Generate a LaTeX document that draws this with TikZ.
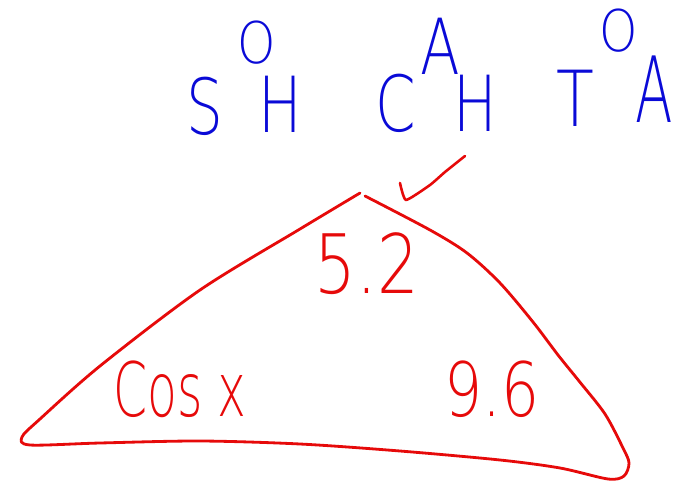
\documentclass[tikz,border=0pt]{standalone}
\usepackage{fontspec}
\usepackage{graphicx}
\newfontfamily\hand{DejaVu Sans ExtraLight}
\definecolor{inkblue}{RGB}{10,10,215}
\definecolor{inkred}{RGB}{230,10,10}
\tikzset{
  bigletter/.style={anchor=base, inner sep=0pt, text=inkblue, font=\hand\fontsize{66}{66}\selectfont},
  supletter/.style={anchor=base, inner sep=0pt, text=inkblue, font=\hand\fontsize{49}{49}\selectfont},
  redlabel/.style={anchor=base, inner sep=0pt, text=inkred, font=\hand\fontsize{64}{64}\selectfont},
  redink/.style={draw=inkred, line width=2.4pt, line cap=round, line join=round},
}
\begin{document}
\begin{tikzpicture}[x=0.03cm, y=-0.03cm]
\useasboundingbox (0,0) rectangle (675,483);
% SOH CAH TOA
\node[bigletter] (s1) at (205,135) {\scalebox{0.75}[1]{S}};
\node[supletter] (o1) at (257,64) {\scalebox{0.85}[1]{O}};
\node[bigletter] (h1) at (280,133) {\scalebox{0.75}[1]{H}};
\node[bigletter] (c1) at (396,132) {\scalebox{0.75}[1]{C}};
\node[bigletter] (a1) at (440,75) {\scalebox{0.75}[1]{A}};
\node[bigletter] (h2) at (475,132) {\scalebox{0.75}[1]{H}};
\node[bigletter] (t1) at (575,127) {\scalebox{0.8}[1]{T}};
\node[supletter] (o2) at (619,52) {\scalebox{0.85}[1]{O}};
\node[bigletter, font=\hand\fontsize{78}{78}\selectfont] (a2) at (654,123) {\scalebox{0.6}[1]{A}};
% triangle
\draw[redink] plot[smooth, tension=0.5] coordinates {
 (360,193) (300,229) (200,290) (100,366) (40,419) (22,437)
 (30,445) (100,443) (200,441) (300,444) (400,451) (500,460) (560,468) (608,479)
 (624,476) (629,463) (623,448) (605,414) (579,381) (558,355) (533,322)
 (500,283) (467,253) (430,230) (365,196)};
% tick
\draw[redink, line width=2.2pt] plot[smooth, tension=0.3] coordinates {
 (400,183) (406,200) (430,185) (445,172) (465,156)};
% labels
\node[redlabel, font=\hand\fontsize{70}{70}\selectfont] (l52) at (367,293) {\scalebox{0.8}[1]{5.2}};
\node[redlabel] (lcos) at (180,416) {\scalebox{0.65}[1]{Cos x}};
\node[redlabel] (l96) at (492,416) {\scalebox{0.8}[1]{9.6}};
\end{tikzpicture}
\end{document}
